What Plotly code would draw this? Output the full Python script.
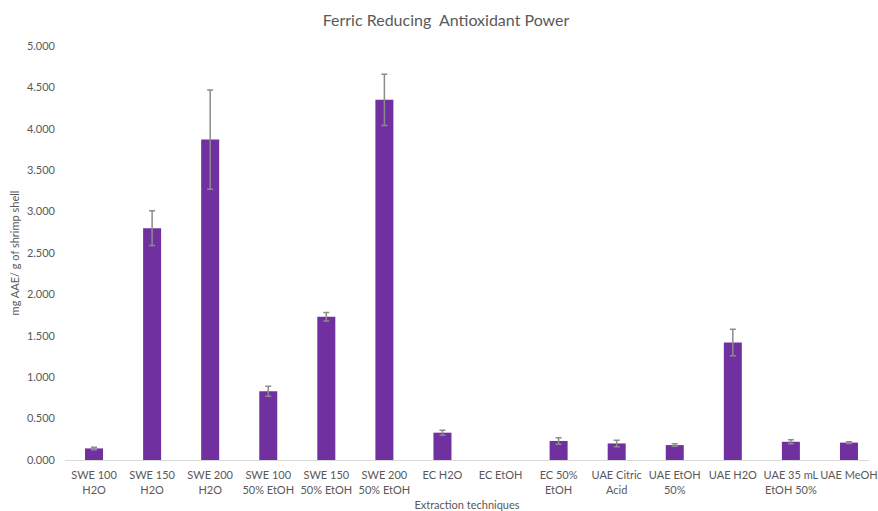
import plotly.graph_objects as go

# FRAP results per extraction technique (mg AAE / g of shrimp shell)
categories = [
    "SWE 100<br>H2O", "SWE 150<br>H2O", "SWE 200<br>H2O",
    "SWE 100<br>50% EtOH", "SWE 150<br>50% EtOH", "SWE 200<br>50% EtOH",
    "EC H2O", "EC EtOH", "EC 50%<br>EtOH", "UAE Citric<br>Acid",
    "UAE EtOH<br>50%", "UAE H2O", "UAE 35 mL<br>EtOH 50%", "UAE MeOH",
]
# EC EtOH: no activity detected, so neither a bar nor an error bar is drawn
frap_mean = [0.14, 2.80, 3.87, 0.83, 1.73, 4.35, 0.33, None, 0.23, 0.20,
             0.18, 1.42, 0.22, 0.21]
frap_sd = [0.015, 0.21, 0.60, 0.06, 0.05, 0.31, 0.03, None, 0.04, 0.04,
           0.015, 0.16, 0.025, 0.01]
y_ticks = [0, 0.5, 1.0, 1.5, 2.0, 2.5, 3.0, 3.5, 4.0, 4.5, 5.0]

text_grey = "#595959"
font_family = "Lato, 'Open Sans', sans-serif"

fig = go.Figure(
    go.Bar(
        x=list(range(len(categories))),
        y=frap_mean,
        width=0.31,
        marker=dict(color="#7030A0", line=dict(width=0)),
        error_y=dict(
            type="data",
            array=frap_sd,
            visible=True,
            color="#8c8c8c",
            thickness=1.5,
            width=3,
        ),
    )
)

fig.update_layout(
    width=878,
    height=511,
    margin=dict(l=65, r=0, t=46, b=49),
    paper_bgcolor="white",
    plot_bgcolor="white",
    showlegend=False,
    font=dict(family=font_family, color=text_grey, size=11),
    title=dict(
        text="Ferric Reducing  Antioxidant Power",
        x=446 / 878,
        xref="container",
        xanchor="center",
        y=1 - 20 / 511,
        yref="container",
        yanchor="middle",
        font=dict(size=16, color=text_grey, family=font_family),
    ),
    xaxis=dict(
        tickmode="array",
        tickvals=list(range(len(categories))),
        ticktext=categories,
        range=[-0.5, 13.345],
        showgrid=False,
        zeroline=False,
        showline=True,
        linecolor="#d9d9d9",
        linewidth=1,
        ticks="",
        tickangle=0,
        ticklabelstandoff=5,
        ticklabeloverflow="allow",
        tickfont=dict(size=11, color=text_grey),
        title=dict(text="Extraction techniques", font=dict(size=11, color=text_grey),
                   standoff=8),
    ),
    yaxis=dict(
        range=[0, 5],
        tickvals=y_ticks,
        tickformat=".3f",
        showgrid=False,
        zeroline=False,
        showline=False,
        ticks="",
        ticklabelstandoff=9,
        tickfont=dict(size=11, color=text_grey),
        title=dict(text="mg AAE/ g of shrimp shell", font=dict(size=11, color=text_grey),
                   standoff=5),
    ),
)

fig.write_html("out.html")
